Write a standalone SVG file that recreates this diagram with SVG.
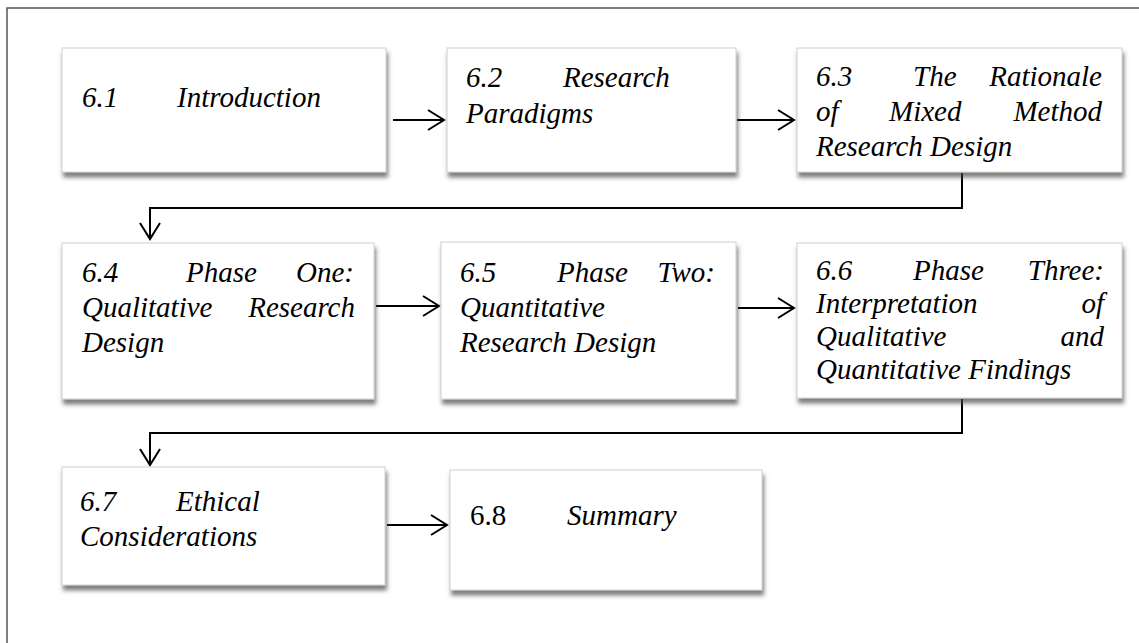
<svg xmlns="http://www.w3.org/2000/svg" width="1139" height="643" viewBox="0 0 1139 643">
<style>
.box{fill:#fff;stroke:#d0d0d0;stroke-width:1;filter:url(#sh)}
.t{font-family:"Liberation Serif","Times New Roman",serif;font-size:29px;font-style:italic;fill:#000}
.n{font-style:normal}
.e{text-anchor:end}
.c{fill:none;stroke:#000;stroke-width:2}
.frame{fill:none;stroke:#555;stroke-width:1.5}
</style>
<defs>
<filter id="sh" x="-5%" y="-10%" width="115%" height="130%">
<feDropShadow dx="1.5" dy="5" stdDeviation="2" flood-color="#444" flood-opacity="0.7"/>
</filter>
<marker id="ah" markerUnits="userSpaceOnUse" markerWidth="20" markerHeight="24" refX="17" refY="11" orient="auto">
<path d="M1,1 L17,11 L1,21" fill="none" stroke="#000" stroke-width="2"/>
</marker>
</defs>
<rect width="1139" height="643" fill="#fff"/>
<path class="frame" d="M7,643 L7,8 L1139,8"/>

<g id="connectors">
<line class="c" x1="393" y1="120" x2="444" y2="120" marker-end="url(#ah)"/>
<line class="c" x1="737" y1="120" x2="794" y2="120" marker-end="url(#ah)"/>
<polyline class="c" points="962,173 962,208 150,208 150,239" marker-end="url(#ah)"/>
<line class="c" x1="376" y1="306" x2="439" y2="306" marker-end="url(#ah)"/>
<line class="c" x1="738" y1="308" x2="794" y2="308" marker-end="url(#ah)"/>
<polyline class="c" points="962,399 962,433 150,433 150,465" marker-end="url(#ah)"/>
<line class="c" x1="387" y1="525" x2="447" y2="525" marker-end="url(#ah)"/>
</g>

<g id="n61">
<rect class="box" x="62" y="48" width="324" height="124"/>
<text class="t" x="82" y="107">6.1</text>
<text class="t" x="177" y="107">Introduction</text>
</g>

<g id="n62">
<rect class="box" x="447" y="48" width="289" height="124"/>
<text class="t" x="466" y="87">6.2</text>
<text class="t" x="563" y="87">Research</text>
<text class="t" x="466" y="123">Paradigms</text>
</g>

<g id="n63">
<rect class="box" x="797" y="48" width="325" height="124"/>
<text class="t" x="816" y="86">6.3</text>
<text class="t" x="913" y="86">The</text>
<text class="t e" x="1102" y="86">Rationale</text>
<text class="t" x="816" y="121">of</text>
<text class="t" x="889" y="121">Mixed</text>
<text class="t e" x="1102" y="121">Method</text>
<text class="t" x="816" y="156">Research Design</text>
</g>

<g id="n64">
<rect class="box" x="62" y="243" width="312" height="156"/>
<text class="t" x="82" y="282">6.4</text>
<text class="t" x="186" y="282">Phase</text>
<text class="t e" x="354" y="282">One:</text>
<text class="t" x="82" y="317">Qualitative</text>
<text class="t e" x="355" y="317">Research</text>
<text class="t" x="82" y="352">Design</text>
</g>

<g id="n65">
<rect class="box" x="441" y="242" width="295" height="157"/>
<text class="t" x="460" y="282">6.5</text>
<text class="t" x="557" y="282">Phase</text>
<text class="t e" x="715" y="282">Two:</text>
<text class="t" x="460" y="317">Quantitative</text>
<text class="t" x="460" y="352">Research Design</text>
</g>

<g id="n66">
<rect class="box" x="797" y="243" width="325" height="155"/>
<text class="t" x="816" y="280">6.6</text>
<text class="t" x="913" y="280">Phase</text>
<text class="t e" x="1104" y="280">Three:</text>
<text class="t" x="816" y="313">Interpretation</text>
<text class="t e" x="1104" y="313">of</text>
<text class="t" x="816" y="346">Qualitative</text>
<text class="t e" x="1104" y="346">and</text>
<text class="t" x="816" y="379">Quantitative Findings</text>
</g>

<g id="n67">
<rect class="box" x="62" y="467" width="323" height="118"/>
<text class="t" x="80" y="511">6.7</text>
<text class="t" x="176" y="511">Ethical</text>
<text class="t" x="80" y="546">Considerations</text>
</g>

<g id="n68">
<rect class="box" x="450" y="470" width="312" height="120"/>
<text class="t n" x="470" y="525">6.8</text>
<text class="t" x="567" y="525">Summary</text>
</g>
</svg>
